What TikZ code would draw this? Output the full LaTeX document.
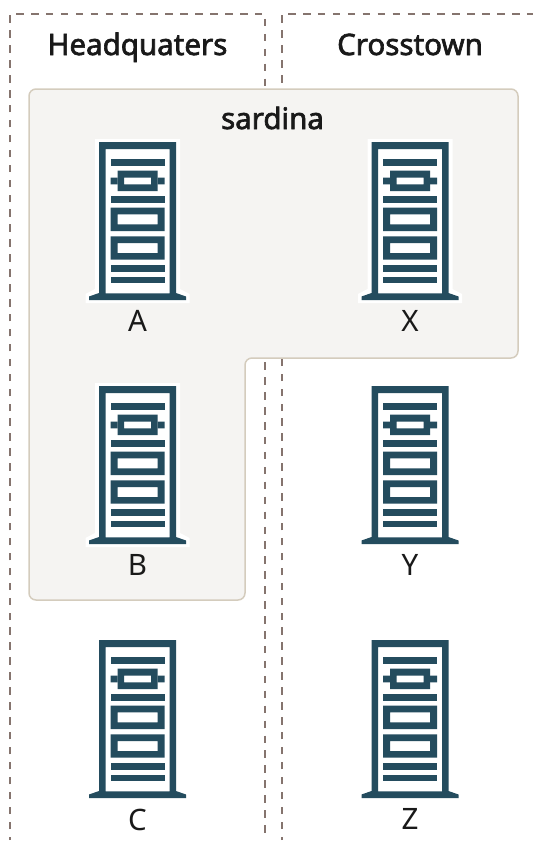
\documentclass[tikz,border=0pt]{standalone}
\usepackage{fontspec}
\setmainfont{Noto Sans}
\newfontfamily\headfont[FakeBold=2.2]{Noto Sans}
\usepackage{xcolor}
\usetikzlibrary{positioning}
\definecolor{rackblue}{HTML}{244C5E}
\definecolor{panelfill}{HTML}{F5F4F2}
\definecolor{paneledge}{HTML}{D4CCBD}
\definecolor{lanedash}{HTML}{85746E}

\tikzset{
    lane/.style={lanedash, line width=1.7pt, dash pattern=on 7.5pt off 7.43pt},
    panel/.style={fill=panelfill, draw=paneledge, line width=1.5pt, rounded corners=7pt},
    head/.style={font=\headfont\fontsize{29.5}{29.5}\selectfont, text=black!90, anchor=base, inner sep=0pt},
    racklabel/.style={font=\fontsize{29.5}{29.5}\selectfont, text=black!90, inner sep=0pt},
    pics/rack/.style={code={
        % white halo, frame and foot
        \fill[white] (-42.5,-3) -- (42.5,-3) -- (42.5,147) -- (52,152) -- (52,161)
            -- (-52,161) -- (-52,152) -- (-42.5,147) -- cycle;
        \fill[rackblue, even odd rule] (-38.5,0) -- (38.5,0) -- (38.5,151) -- (48.5,154.5)
            -- (48.5,158) -- (-48.5,158) -- (-48.5,154.5) -- (-38.5,151) -- cycle
            (-32,7) rectangle (32,151.3);
        % shelves
        \foreach \y in {17.3,54,123,134.7} {
            \fill[rackblue] (-27,\y) rectangle (27,\y+6.5);
        }
        % top unit with side tabs
        \fill[rackblue, even odd rule] (-20,28.7) rectangle (20,49) (-13.5,35.7) rectangle (13.5,42.3);
        \fill[rackblue] (-27,35.7) rectangle (-20,42.3) (20,35.7) rectangle (27,42.3);
        % two drives
        \foreach \y in {65.7,94.3} {
            \fill[rackblue, even odd rule] (-27,\y) rectangle (27,\y+23.3)
                (-20,\y+6.7) rectangle (20,\y+16.7);
        }
        \coordinate (-foot) at (0,158);
    }}
}

\begin{document}
\begin{tikzpicture}[x=1pt, y=-1pt]
    \useasboundingbox (0,0) rectangle (533,846);

    % Draw site lanes
    \draw[lane, dash phase=4pt] (10,840) -- (10,14) -- (265,14) -- (265,840);
    \draw[lane, dash phase=4pt] (282,840) -- (282,14) -- (533,14);

    % Site names
    \node[head] (hq) at (137.5,55) {Headquaters};
    \node[head] (crosstown) at (410,55) {Crosstown};

    % Cluster panel
    \draw[panel] (29,89) -- (518,89) -- (518,358) -- (245,358) -- (245,600) -- (29,600) -- cycle;
    \node[head] (sardina) at (272.5,129) {sardina};

    % Draw racks with their names
    \foreach \n/\x/\y in {A/137.5/142, B/137.5/386, C/137.5/640, X/410/142, Y/410/386, Z/410/640} {
        \pic (rack\n) at (\x,\y) {rack};
        \node[racklabel, below=10.5pt of rack\n-foot] (label\n) {\n};
    }
\end{tikzpicture}
\end{document}
